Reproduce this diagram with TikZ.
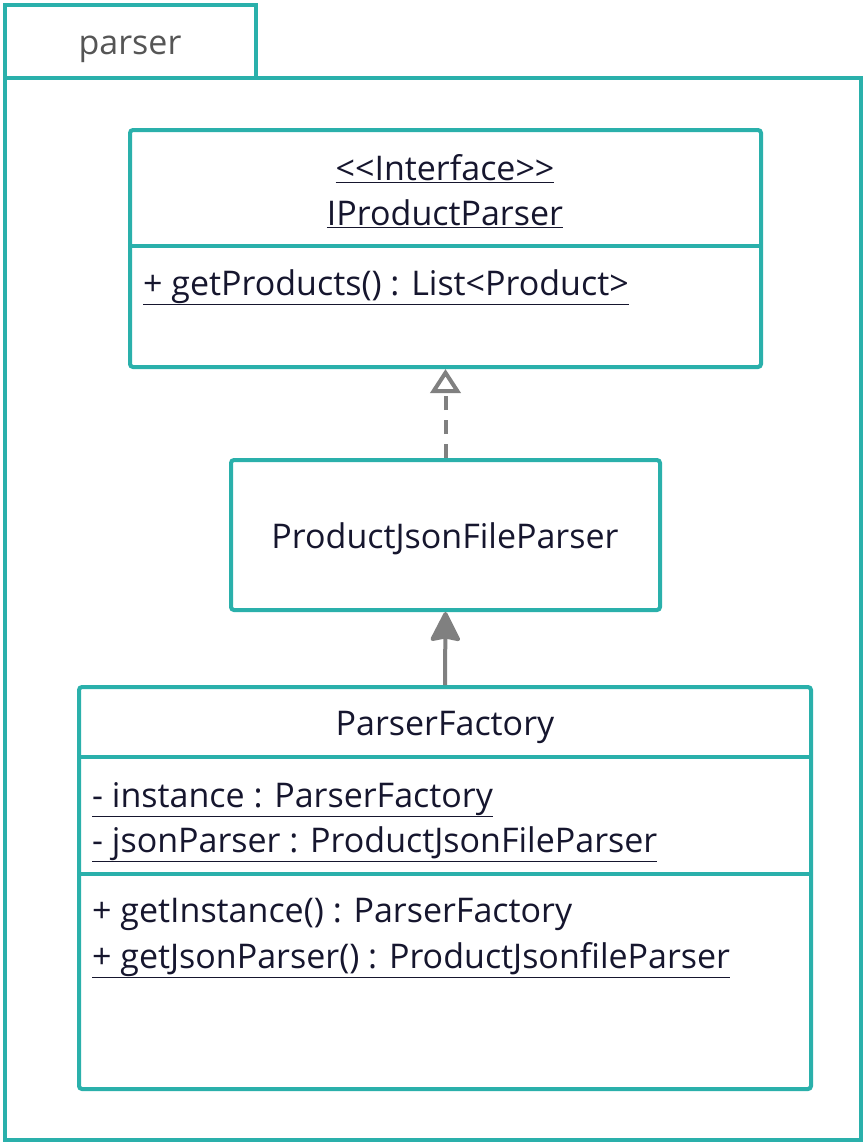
\documentclass[tikz,border=0pt]{standalone}
\usepackage{fontspec}
\setmainfont{Open Sans}
\usetikzlibrary{positioning, arrows.meta, calc}
\definecolor{umlteal}{HTML}{2AB0AB}
\definecolor{umlgray}{HTML}{808080}
\definecolor{umlink}{HTML}{16162E}
\definecolor{pkgtext}{HTML}{555555}
\newcommand{\umlul}[1]{\underline{#1}}

\begin{document}
\begin{tikzpicture}[
    x=1pt, y=-1pt,
    font=\fontsize{34}{40}\selectfont,
    pkgbox/.style={
        rectangle, draw=umlteal, line width=4pt, fill=white, inner sep=0pt
    },
    umlbox/.style={
        rectangle, draw=umlteal, line width=4pt, rounded corners=3pt,
        fill=white, inner sep=0pt
    },
    title/.style={anchor=base, text=umlink, inner sep=0pt},
    member/.style={anchor=base west, text=umlink, inner sep=0pt},
    sep/.style={draw=umlteal, line width=4pt},
    realize/.style={
        draw=umlgray, line width=4pt, dash pattern=on 14pt off 10pt,
        -{Triangle[open, length=24pt, width=30pt, line width=4pt]}
    },
    assoc/.style={
        draw=umlgray, line width=4pt,
        -{Stealth[round, inset=3pt, length=32pt, width=32pt]}
    }
]

\useasboundingbox (0,0) rectangle (866,1144);

% ---------------- Package ----------------
\node[pkgbox, minimum width=856pt, minimum height=1062pt] (pkg) at (433,609) {};
\node[pkgbox, minimum width=251pt, minimum height=73pt] (pkgtab) at (130.5,41.5) {};
\node[title, text=pkgtext] (pkglbl) at (130,54) {parser};

% ---------------- IProductParser ----------------
\node[umlbox, minimum width=631pt, minimum height=237pt] (iface) at (445.5,248.5) {};
\coordinate (ifacesep) at (0,246);
\draw[sep] (iface.west |- ifacesep) -- (iface.east |- ifacesep);
\node[title] (ifacestereo) at (445,180) {\umlul{<\kern0pt<Interface>\kern0pt>}};
\node[title] (ifacename) at (445,225) {\umlul{IProductParser}};
\node[member] (getproducts) at (143,295) {\umlul{+ getProducts() : List<Product>}};

% ---------------- ProductJsonFileParser ----------------
\node[umlbox, minimum width=429pt, minimum height=150pt] (jsonparser) at (445.5,535) {};
\node[title] (jsonname) at (445,548) {ProductJsonFileParser};

% ---------------- ParserFactory ----------------
\node[umlbox, minimum width=732pt, minimum height=402pt] (factory) at (445,888) {};
\coordinate (factsepa) at (0,757);
\coordinate (factsepb) at (0,874);
\draw[sep] (factory.west |- factsepa) -- (factory.east |- factsepa);
\draw[sep] (factory.west |- factsepb) -- (factory.east |- factsepb);
\node[title] (factname) at (445,735) {ParserFactory};
\node[member] (instattr) at (92,807) {\umlul{- instance : ParserFactory}};
\node[member] (jsonattr) at (92,852) {\umlul{- jsonParser : ProductJsonFileParser}};
\node[member] (getinst) at (92,922) {+ getInstance() : ParserFactory};
\node[member] (getjson) at (92,968) {\umlul{+ getJsonParser() : ProductJsonfileParser}};

% ---------------- Arrows ----------------
\draw[realize] (jsonparser.north) -- (iface.south);
\draw[assoc] (factory.north) -- (jsonparser.south);

\end{tikzpicture}
\end{document}
